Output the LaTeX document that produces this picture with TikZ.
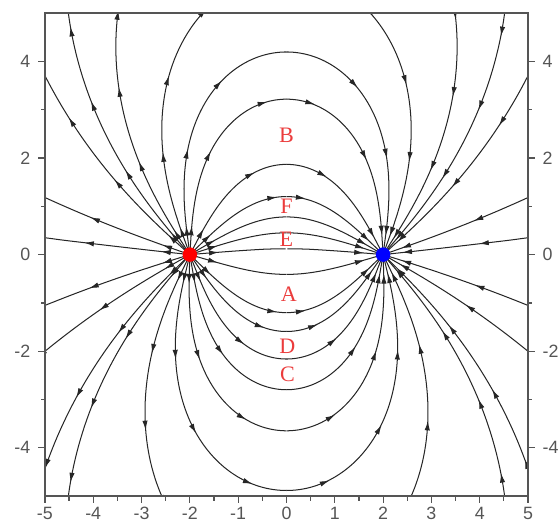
\documentclass[tikz,border=0pt]{standalone}
\usepackage{fontspec}
\setmainfont{Liberation Sans}
\newfontfamily\chufont{Liberation Serif}
\usepackage{tikz}
\usetikzlibrary{arrows.meta, decorations.markings}

\definecolor{truc}{RGB}{85,85,85}
\definecolor{chudo}{RGB}{235,60,60}

\tikzset{
    declare function={
        cthb(\t,\al)=max(-1,min(1,cos(\t)-1-cos(\al)));
        thb(\t,\al)=acos(cthb(\t,\al));
        fldx(\t,\al)=-2+4*cos(\t)*sin(thb(\t,\al))/sin(thb(\t,\al)-\t);
        fldy(\t,\al)=4*sin(\t)*sin(thb(\t,\al))/sin(thb(\t,\al)-\t);
    },
    duongsuc/.style={line width=0.6pt, black!85},
    muitenxuoi/.style={postaction={decorate, decoration={markings,
        mark=between positions 0.6cm and 1 step 1.6cm with {\arrow{Latex[length=2mm,width=1.1mm]}}}}},
    muitennguoc/.style={postaction={decorate, decoration={markings,
        mark=between positions 0.6cm and 1 step 1.6cm with {\arrow{Latex[length=2mm,width=1.1mm,reversed]}}}}},
    nhan/.style={text=chudo, font=\chufont\fontsize{13}{15}\selectfont},
    so/.style={text=truc, font=\fontsize{10.5}{12}\selectfont, inner sep=1pt},
}

% #1 = goc xuat phat tai dien tich duong, #2 = goc dung, #3 = 1 (tren) / -1 (duoi)
\newcommand{\duong}[3]{%
    \foreach \sx/\kieu in {1/muitenxuoi, -1/muitennguoc} {
        \begin{scope}[xscale=\sx, yscale=#3]
            \draw[duongsuc, \kieu] plot[domain=#1:#2, samples=70]
                ({fldx(\x,#1)}, {fldy(\x,#1)});
        \end{scope}
    }
}

\begin{document}
\begin{tikzpicture}
    \useasboundingbox (-5.93,-5.70) rectangle (5.62,5.27);
    \clip (-5.93,-5.70) rectangle (5.62,5.27);

    % Vẽ các đường sức
    \begin{scope}
        \clip (-5,-5) rectangle (5,5);
        % nửa trên
        \duong{4.9}{3.47}{1}
        \duong{18}{12.7}{1}
        \duong{30.3}{21.3}{1}
        \duong{44.4}{31.0}{1}
        \duong{62.5}{43.0}{1}
        \duong{86.8}{58.1}{1}
        \duong{98}{64.5}{1}
        \duong{110.4}{71.0}{1}
        \duong{123.1}{104}{1}
        \duong{131}{114}{1}
        \duong{138.2}{127}{1}
        \duong{160.8}{157.5}{1}
        \duong{174}{173}{1}
        % nửa dưới
        \duong{16.4}{11.6}{-1}
        \duong{44.4}{31.0}{-1}
        \duong{55.6}{38.5}{-1}
        \duong{69}{47.2}{-1}
        \duong{80.6}{54.4}{-1}
        \duong{92.2}{61.3}{-1}
        \duong{104}{67.7}{-1}
        \duong{116.1}{73.7}{-1}
        \duong{131}{114}{-1}
        \duong{135.7}{122}{-1}
        \duong{150.5}{145}{-1}
        \duong{162.7}{160}{-1}
    \end{scope}

    % Vẽ khung và vạch chia
    \draw[truc, line width=0.8pt] (-5,-5) rectangle (5,5);
    \foreach \x [count=\i] in {-5,...,5} {
        \draw[truc, line width=0.7pt] (\x,-5) -- (\x,-5.15)
            node[so, below, yshift=-1pt] (bx\i) {\x};
    }
    \foreach \x in {-4.5,-3.5,...,4.5} {
        \draw[truc, line width=0.7pt] (\x,-5) -- (\x,-5.09);
    }
    \foreach \y [count=\i] in {-4,-2,...,4} {
        \draw[truc, line width=0.7pt] (-5,\y) -- (-5.15,\y)
            node[so, left, xshift=-3pt] (ly\i) {\y};
        \draw[truc, line width=0.7pt] (5,\y) -- (5.15,\y)
            node[so, right, xshift=3pt] (ry\i) {\y};
    }
    \foreach \y in {-3,-1,1,3} {
        \draw[truc, line width=0.7pt] (-5,\y) -- (-5.09,\y);
        \draw[truc, line width=0.7pt] (5,\y) -- (5.09,\y);
    }

    % Hai điện tích
    \node[circle, fill=red, inner sep=0pt, minimum size=0.3cm] (qduong) at (-2,0) {};
    \node[circle, fill=blue, inner sep=0pt, minimum size=0.3cm] (qam) at (2,0) {};

    % Các điểm
    \node[nhan] (ptB) at (0,2.47) {B};
    \node[nhan] (ptF) at (0,0.99) {F};
    \node[nhan] (ptE) at (0,0.31) {E};
    \node[nhan] (ptA) at (0.05,-0.82) {A};
    \node[nhan] (ptD) at (0.02,-1.9) {D};
    \node[nhan] (ptC) at (0.02,-2.47) {C};
\end{tikzpicture}
\end{document}
